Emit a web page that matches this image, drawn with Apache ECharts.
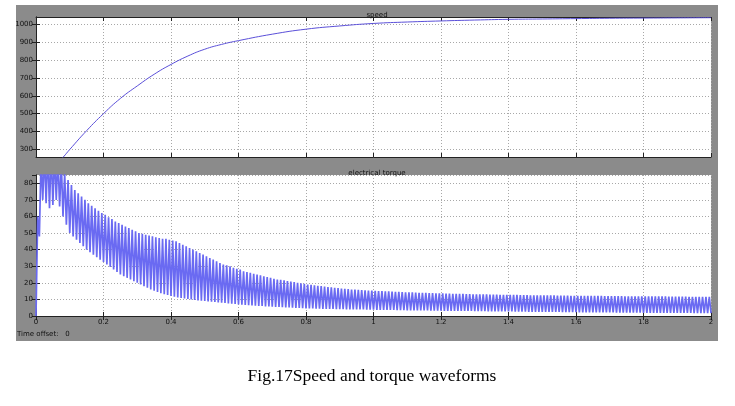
<!DOCTYPE html>
<html>
<head>
<meta charset="utf-8">
<script src="https://cdn.jsdelivr.net/npm/echarts@6/dist/echarts.min.js"></script>
<style>
html,body{margin:0;padding:0;background:#fff;}
#c{width:735px;height:406px;}
</style>
</head>
<body>
<div id="c"></div>
<script>
// ---- data ----
var xTicks = [0, 0.2, 0.4, 0.6, 0.8, 1, 1.2, 1.4, 1.6, 1.8, 2];
var speedTicks = [300, 400, 500, 600, 700, 800, 900, 1000];
var torqueTicks = [0, 10, 20, 30, 40, 50, 60, 70, 80];

var speedTime = [0.05, 0.081, 0.1, 0.15, 0.2, 0.25, 0.3, 0.35, 0.4, 0.45, 0.5, 0.55, 0.6, 0.7, 0.8, 0.9, 1.0, 1.1, 1.2, 1.3, 1.4, 1.5, 1.6, 1.7, 1.8, 1.9, 2.0];
var speedVal  = [195, 258, 300, 405, 500, 585, 655, 720, 775, 822, 860, 887, 908, 944, 972, 990, 1004, 1012, 1018, 1023, 1027, 1029, 1031, 1033, 1034, 1035, 1036];

// torque: one trough (at k*0.01 s) and one peak (at k*0.01+0.005 s) per ripple cycle
var torqueStep = 0.01;
var torqueLow = [0,48,70,68,65,67,70,66,60,55,
 50,48,46,44,42,40,38.5,37,35.5,34,
 32.5,31,29.5,28,26.5,25,24,23,22,21,
 20,19,18,17,16,15.2,14.5,13.8,13.2,12.6,
 12,11.6,11.2,10.9,10.6,10.3,10,9.7,9.4,9.2,
 9,8.8,8.6,8.4,8.2,8,7.8,7.6,7.4,7.2,
 7,6.8,6.7,6.5,6.4,6.2,6.1,6,5.8,5.7,
 5.6,5.5,5.4,5.3,5.2,5.1,5,4.9,4.8,4.7,
 4.6,4.5,4.5,4.4,4.4,4.3,4.3,4.2,4.2,4.1,
 4.1,4.1,4,4,4,3.9,3.9,3.9,3.8,3.8,
 3.8,3.7,3.7,3.7,3.6,3.6,3.6,3.5,3.5,3.5,
 3.4,3.4,3.4,3.3,3.3,3.3,3.3,3.2,3.2,3.2,
 3.2,3.1,3.1,3.1,3.1,3,3,3,3,3,
 2.9,2.9,2.9,2.9,2.8,2.8,2.8,2.8,2.7,2.7,
 2.7,2.7,2.6,2.6,2.6,2.6,2.5,2.5,2.5,2.5,
 2.5,2.4,2.4,2.4,2.4,2.4,2.3,2.3,2.3,2.3,
 2.3,2.2,2.2,2.2,2.2,2.2,2.1,2.1,2.1,2.1,
 2.1,2.1,2,2,2,2,2,2,2,2,
 1.9,1.9,1.9,1.9,1.9,1.9,1.9,1.8,1.8,1.8,
 1.8,1.8,1.8,1.8,1.8,1.7,1.7,1.7,1.7,1.7,1.7];
var torqueHigh = [60,95,98,100,100,98,96,92,86,82,
 79,76,74,72,70,68,66.5,65,63.5,62,
 61,59.5,58.5,57,56,55,54,53,52,51,
 50,49.5,49,48.5,48,47.5,47,46.5,46.5,46,
 45.5,45,44,43,42,41,40,39,38,37,
 36,35,34,33,32,31,30.5,30,29,28.5,
 28,27,26.5,26,25.5,25,24.5,24,23.5,23,
 22.5,22,21.8,21.5,21,20.7,20.4,20,19.7,19.4,
 19,18.8,18.5,18.2,18,17.8,17.5,17.3,17,16.8,
 16.6,16.4,16.2,16,15.9,15.8,15.6,15.5,15.4,15.3,
 15.2,15.1,15,14.9,14.8,14.7,14.6,14.5,14.4,14.3,
 14.2,14.2,14.1,14,14,13.9,13.8,13.8,13.7,13.6,
 13.6,13.5,13.5,13.4,13.4,13.3,13.3,13.2,13.2,13.1,
 13.1,13,13,13,12.9,12.9,12.9,12.8,12.8,12.8,
 12.7,12.7,12.7,12.6,12.6,12.6,12.5,12.5,12.5,12.5,
 12.4,12.4,12.4,12.4,12.3,12.3,12.3,12.3,12.2,12.2,
 12.2,12.2,12.2,12.1,12.1,12.1,12.1,12.1,12,12,
 12,12,12,12,11.9,11.9,11.9,11.9,11.9,11.9,
 11.8,11.8,11.8,11.8,11.8,11.8,11.8,11.7,11.7,11.7,
 11.7,11.7,11.7,11.6,11.6,11.6,11.6,11.6,11.6,11.6];

// ---- build series data ----
var speedData = speedTime.map(function (t, i) { return [t, speedVal[i]]; });
var torqueData = [];
for (var k = 0; k < torqueLow.length; k++) {
  torqueData.push([k * torqueStep, torqueLow[k]]);
  if (k < torqueHigh.length) torqueData.push([k * torqueStep + torqueStep / 2, torqueHigh[k]]);
}

var lblFont = { fontSize: 7, color: '#111', fontFamily: 'DejaVu Sans' };
var gridLine = { show: true, lineStyle: { color: '#a8a8a8', type: [1, 2], width: 1 } };
var axLine = { show: true, lineStyle: { color: '#222', width: 1 } };
var tick = { show: true, inside: true, length: 4, lineStyle: { color: '#222' } };

function xAx(gi, showLabels) {
  return [{
    type: 'value', gridIndex: gi, min: 0, max: 2, interval: 0.2,
    axisLine: axLine, axisTick: tick, splitLine: gridLine,
    axisLabel: Object.assign({ show: showLabels, margin: 3 }, lblFont)
  }, {
    type: 'value', gridIndex: gi, min: 0, max: 2, interval: 0.2, position: 'top',
    axisLine: axLine, axisTick: tick, splitLine: { show: false }, axisLabel: { show: false }
  }];
}

var option = {
  animation: false,
  backgroundColor: '#fff',
  graphic: [
    { type: 'rect', shape: { x: 16, y: 5, width: 702, height: 336 }, style: { fill: '#8b8b8b' }, z: -10 },
    { type: 'text', left: 17, top: 331, style: { text: 'Time offset:   0', fontSize: 7, fill: '#111', fontFamily: 'DejaVu Sans' } },
    { type: 'text', x: 372, y: 376, style: { text: 'Fig.17Speed and torque waveforms', fontSize: 17.5, fill: '#000', fontFamily: 'Liberation Serif', align: 'center', verticalAlign: 'middle' } }
  ],
  title: [
    { text: 'speed', left: 372, top: 7, textAlign: 'center', textStyle: { fontSize: 7, fontWeight: 'normal', color: '#111', fontFamily: 'DejaVu Sans' } },
    { text: 'electrical torque', left: 372, top: 165, textAlign: 'center', textStyle: { fontSize: 7, fontWeight: 'normal', color: '#111', fontFamily: 'DejaVu Sans' } }
  ],
  grid: [
    { left: 36, right: 24, top: 17, height: 140, show: true, backgroundColor: '#fff', borderWidth: 0 },
    { left: 36, right: 24, top: 175, height: 141, show: true, backgroundColor: '#fff', borderWidth: 0 }
  ],
  xAxis: xAx(0, false).concat(xAx(1, true)),
  yAxis: [
    { type: 'value', gridIndex: 0, min: 258, max: 1040,
      axisLine: axLine,
      axisTick: Object.assign({ customValues: speedTicks }, tick),
      axisLabel: Object.assign({ customValues: speedTicks, margin: 3, formatter: function (v) { return String(v); } }, lblFont),
      splitLine: gridLine },
    { type: 'value', gridIndex: 0, min: 258, max: 1040, position: 'right',
      axisLine: axLine, axisTick: Object.assign({ customValues: speedTicks }, tick),
      axisLabel: { show: false }, splitLine: { show: false } },
    { type: 'value', gridIndex: 1, min: 0, max: 85, interval: 10,
      axisLine: axLine, axisTick: tick,
      axisLabel: Object.assign({ showMaxLabel: false, margin: 3 }, lblFont),
      splitLine: gridLine },
    { type: 'value', gridIndex: 1, min: 0, max: 85, interval: 10, position: 'right',
      axisLine: axLine, axisTick: tick, axisLabel: { show: false }, splitLine: { show: false } }
  ],
  series: [
    { type: 'line', xAxisIndex: 0, yAxisIndex: 0, data: speedData, smooth: true, symbol: 'none', clip: true,
      lineStyle: { color: '#5a4fd8', width: 1 } },
    { type: 'line', xAxisIndex: 2, yAxisIndex: 2, data: torqueData, symbol: 'none', clip: true, sampling: 'none',
      lineStyle: { color: '#6a6af2', width: 1.7 } }
  ]
};
var chart = echarts.init(document.getElementById('c'), null, { renderer: 'canvas' });
chart.setOption(option);
</script>
</body>
</html>
